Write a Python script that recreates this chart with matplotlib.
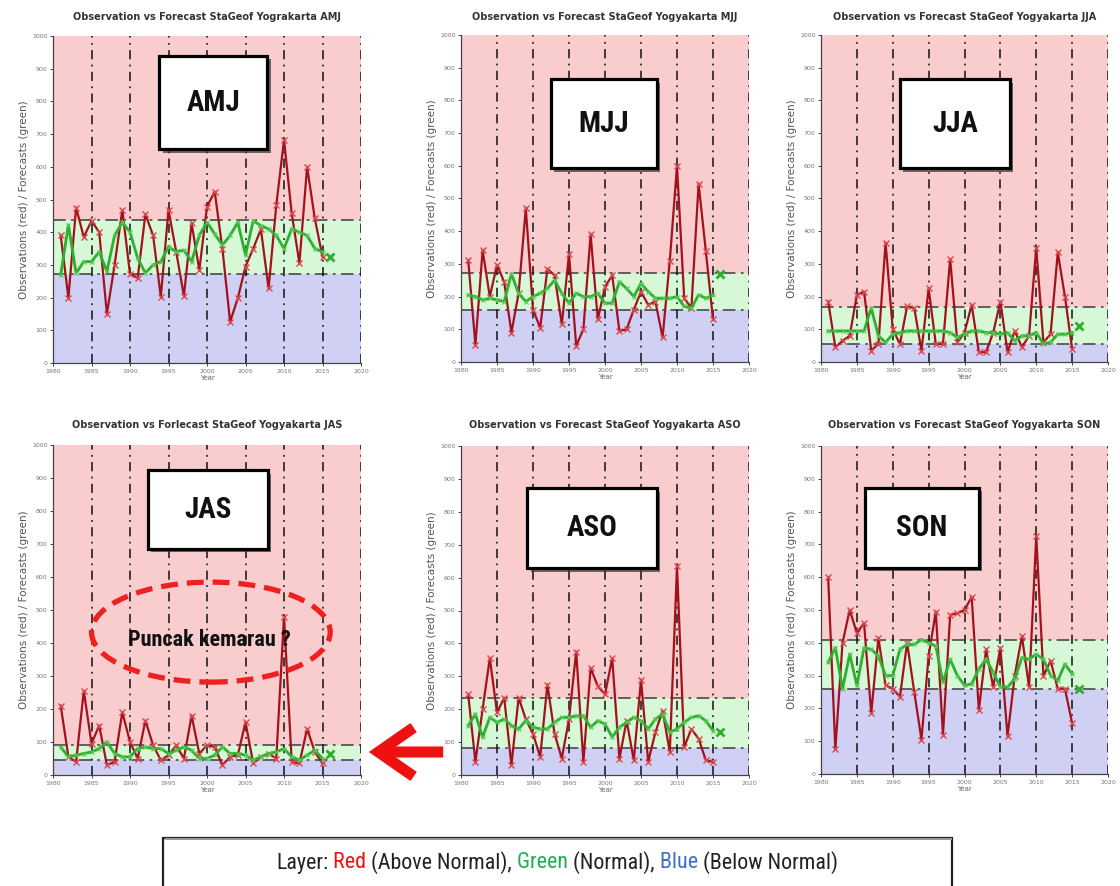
import numpy as np
import matplotlib
matplotlib.use("Agg")
import matplotlib.pyplot as plt
from matplotlib import font_manager
from matplotlib.patches import Rectangle, Ellipse
import matplotlib.patheffects as pe

# ---------------- data ----------------
years = np.arange(1981, 2016)
forecast_years = np.arange(1981, 2017)

seasons = ["AMJ", "MJJ", "JJA", "JAS", "ASO", "SON"]
titles = [
    "Observation vs Forecast StaGeof Yograkarta AMJ",
    "Observation vs Forecast StaGeof Yogyakarta MJJ",
    "Observation vs Forecast StaGeof Yogyakarta JJA",
    "Observation vs Forlecast StaGeof Yogyakarta JAS",
    "Observation vs Forecast StaGeof Yogyakarta ASO",
    "Observation vs Forecast StaGeof Yogyakarta SON",
]

obs_amj = [390, 200, 475, 385, 435, 400, 150, 300, 468, 272, 260, 455, 390, 203, 468, 340,
           205, 427, 284, 478, 524, 350, 126, 198, 295, 350, 409, 228, 483, 682, 458, 305,
           600, 442, 325]
fc_amj = [270, 422, 275, 310, 310, 340, 280, 390, 430, 400, 320, 275, 300, 310, 355, 340,
          345, 310, 390, 430, 395, 360, 390, 430, 330, 435, 420, 410, 390, 350, 410, 400,
          390, 350, 340, 325]

obs_mjj = [312, 52, 342, 200, 297, 245, 90, 210, 470, 160, 105, 285, 265, 115, 330, 50,
           100, 390, 130, 230, 265, 95, 100, 160, 215, 175, 185, 75, 310, 600, 195, 165,
           545, 340, 130]
fc_mjj = [205, 200, 190, 195, 190, 185, 270, 210, 185, 200, 210, 225, 250, 210, 180, 210,
          200, 200, 210, 180, 180, 245, 225, 200, 240, 215, 195, 195, 195, 200, 170, 165,
          205, 195, 205, 270]

obs_jja = [185, 45, 65, 80, 205, 215, 35, 55, 365, 100, 55, 170, 165, 35, 225, 55,
           55, 315, 60, 90, 175, 30, 30, 90, 185, 30, 95, 45, 80, 350, 60, 85,
           335, 200, 40]
fc_jja = [95, 95, 95, 95, 95, 95, 165, 80, 60, 85, 90, 95, 95, 95, 95, 95,
          95, 90, 75, 85, 95, 95, 90, 90, 85, 90, 65, 80, 80, 90, 55, 60,
          85, 85, 90, 110]

obs_jas = [210, 55, 40, 255, 95, 150, 30, 40, 190, 100, 50, 165, 90, 45, 60, 90,
           50, 180, 65, 90, 85, 30, 55, 60, 160, 35, 55, 65, 50, 480, 40, 35,
           140, 70, 35]
fc_jas = [85, 55, 60, 65, 70, 80, 100, 65, 55, 55, 80, 85, 80, 80, 65, 75,
          85, 75, 50, 50, 60, 85, 65, 65, 60, 45, 55, 65, 70, 80, 55, 45,
          60, 75, 50, 65]

obs_aso = [245, 40, 200, 355, 190, 235, 30, 235, 170, 125, 55, 275, 125, 50, 170, 375,
           40, 325, 270, 245, 355, 50, 165, 45, 290, 40, 130, 195, 70, 635, 85, 140,
           110, 45, 40]
fc_aso = [150, 185, 115, 175, 160, 170, 150, 140, 165, 145, 140, 140, 160, 175, 175, 180,
          180, 145, 165, 155, 115, 145, 160, 175, 165, 140, 170, 185, 130, 140, 160, 175,
          180, 165, 135, 130]

obs_son = [600, 75, 400, 500, 430, 460, 185, 415, 270, 260, 235, 400, 250, 105, 360, 495,
           120, 485, 490, 500, 540, 195, 380, 265, 385, 115, 300, 420, 265, 725, 300, 345,
           260, 260, 155]
fc_son = [340, 385, 260, 365, 270, 385, 380, 360, 300, 300, 380, 395, 395, 410, 400, 390,
          280, 350, 300, 270, 275, 320, 350, 310, 265, 265, 290, 355, 350, 365, 350, 300,
          285, 335, 305, 260]

upper_thr = [437, 272, 168, 91, 234, 409]
lower_thr = [272, 159, 55, 45, 82, 259]

observations = [obs_amj, obs_mjj, obs_jja, obs_jas, obs_aso, obs_son]
forecasts = [fc_amj, fc_mjj, fc_jja, fc_jas, fc_aso, fc_son]

# ---------------- style / layout ----------------
W, H = 1120, 886
fig = plt.figure(figsize=(W / 100, H / 100), dpi=100)

names = {f.name for f in font_manager.fontManager.ttflist}
narrow = next((n for n in ["Liberation Sans Narrow", "Arial Narrow", "Roboto Condensed",
                           "Open Sans Condensed", "Liberation Sans"] if n in names), "DejaVu Sans")
big_font = dict(family=narrow)

# axes boxes in pixels: left, right, top, bottom
boxes = [(53, 361, 36, 363), (461, 749, 35, 362), (821, 1108, 35, 362),
         (53, 361, 445, 775), (461, 749, 446, 775), (821, 1108, 446, 774)]
title_y = [17, 17, 17, 425, 425, 425]
# label boxes in data coords: x0, x1, y0, y1
label_boxes = [(1993.8, 2007.8, 654, 939), (1992.5, 2007.2, 593, 865), (1991.0, 2006.3, 593, 865),
               (1992.3, 2007.9, 685, 924), (1989.2, 2007.2, 629, 872), (1986.1, 2002.0, 629, 872)]

c_red_bg = "#f9cdcd"
c_green_bg = "#d6f8d6"
c_blue_bg = "#d0d0f4"
c_obs = "#a3121c"
c_obs_m = "#d9484f"
c_fc = "#2fae2f"

axes = []
for i in range(6):
    l, r, t, b = boxes[i]
    ax = fig.add_axes([l / W, 1 - b / H, (r - l) / W, (b - t) / H])
    axes.append(ax)
    ax.set_xlim(1980, 2020)
    ax.set_ylim(0, 1000)
    up, lo = upper_thr[i], lower_thr[i]
    ax.axhspan(up, 1000, color=c_red_bg, lw=0, zorder=0)
    ax.axhspan(lo, up, color=c_green_bg, lw=0, zorder=0)
    ax.axhspan(0, lo, color=c_blue_bg, lw=0, zorder=0)
    for yv in (up, lo):
        ax.axhline(yv, color="#555555", lw=1.3, ls=(0, (7, 3, 1.5, 3)), zorder=1)
    for xv in range(1985, 2021, 5):
        ax.axvline(xv, color="#111111", lw=1.1, ls=(0, (6, 3.5, 1.2, 3.5)), zorder=1)

    obs = observations[i]
    fc = forecasts[i]
    ax.plot(years, obs, color=c_obs, lw=1.6, marker="x", ms=5, mec=c_obs_m, mew=1.0, zorder=3)
    ax.plot(forecast_years[:-1], fc[:-1], color=c_fc, lw=2.0, marker="x", ms=3.5,
            mec="#55cc55", mew=0.8, zorder=4)
    ax.plot(forecast_years[-1:], fc[-1:], ls="none", marker="x", ms=6, mec=c_fc, mew=2.0, zorder=4)

    for s in ("top", "right"):
        ax.spines[s].set_visible(False)
    for s in ("left", "bottom"):
        ax.spines[s].set_color("#444444")
        ax.spines[s].set_linewidth(0.9)
    ax.set_xticks(range(1980, 2021, 5))
    ax.set_yticks(range(0, 1001, 100))
    ax.tick_params(labelsize=4.5, colors="#444444", labelcolor="#777777", length=2, width=0.7, pad=2)
    ax.set_xlabel("Year", fontsize=5, color="#666666", labelpad=1)
    ax.set_ylabel("Observations (red) / Forecasts (green)", fontsize=7.5, color="#555555", labelpad=2)

    fig.text(((l + r) / 2) / W, 1 - title_y[i] / H, titles[i], ha="center", va="center",
             fontsize=7, fontweight="bold", color="#333333")

    x0, x1, y0, y1 = label_boxes[i]
    rect = Rectangle((x0, y0), x1 - x0, y1 - y0, facecolor="white", edgecolor="black", lw=2.3,
                     zorder=6)
    rect.set_path_effects([pe.SimplePatchShadow(offset=(2.5, -2.5), shadow_rgbFace="#333333",
                                                alpha=0.7), pe.Normal()])
    ax.add_patch(rect)
    ax.text((x0 + x1) / 2, (y0 + y1) / 2, seasons[i], ha="center", va="center", fontsize=21,
            fontweight="bold", color="#111111", zorder=7, **big_font)

# JAS annotation
ax_jas = axes[3]
ell = Ellipse((2000.5, 433), 31, 303, fill=False, edgecolor="#ee2020", lw=3.8,
              ls=(0, (3.2, 1.7)), zorder=8, clip_on=False)
ax_jas.add_patch(ell)
ax_jas.text(2000.3, 408, "Puncak kemarau ?", ha="center", va="center", fontsize=16,
            fontweight="bold", color="#111111", zorder=9, **big_font)

# red arrow between JAS and ASO
fig.patches.append(matplotlib.patches.FancyArrowPatch(
    (446, H - 752), (366, H - 752), transform=None,
    arrowstyle="->,head_length=1.15,head_width=0.8", mutation_scale=22,
    color="#ee1111", lw=8, capstyle="butt", joinstyle="miter"))

# bottom legend box
fig.patches.append(Rectangle((163, H - 890), 789, 52, transform=None, fill=False,
                             edgecolor="#222222", lw=1.6))
fig.patches.append(Rectangle((165, H - 840), 787, 2, transform=None, facecolor="#999999",
                             edgecolor="none"))

segments = [("Layer:", "#222222"), (" Red", "#ee1111"), (" (Above Normal),", "#222222"),
            (" Green", "#22aa55"), (" (Normal),", "#222222"), (" Blue", "#3d6fc4"),
            (" (Below Normal)", "#222222")]
leg_font = dict(family=narrow, fontsize=15)
fig.canvas.draw()
renderer = fig.canvas.get_renderer()
tmp = []
for txt, col in segments:
    t = fig.text(0, 0, txt, color=col, **leg_font)
    tmp.append(t)
widths = [t.get_window_extent(renderer).width for t in tmp]
total = sum(widths)
scale = 565.0 / total
if abs(scale - 1) > 0.04:
    for t in tmp:
        t.set_fontsize(15 * scale)
    widths = [t.get_window_extent(renderer).width for t in tmp]
    total = sum(widths)
xcur = 557 - total / 2
for t, w in zip(tmp, widths):
    t.set_position((xcur / W, 1 - 863 / H))
    t.set_va("center")
    xcur += w

fig.savefig("out.png", dpi=100)
